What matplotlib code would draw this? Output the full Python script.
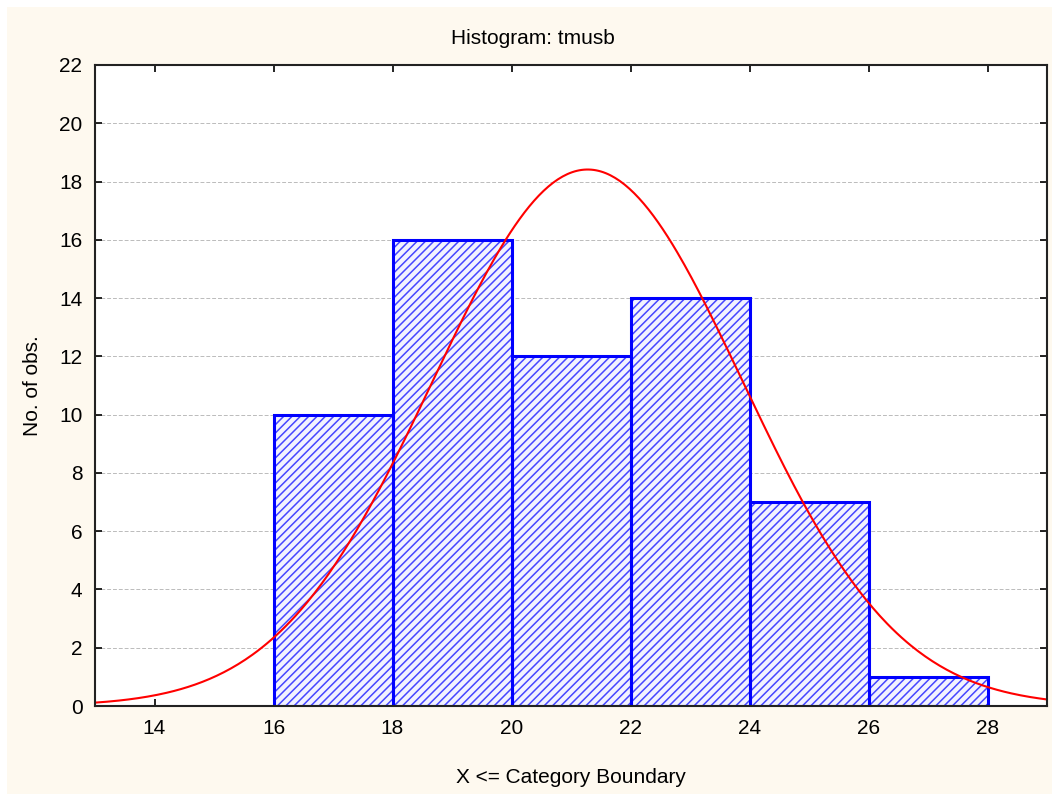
import numpy as np
import matplotlib
matplotlib.use("Agg")
import matplotlib.pyplot as plt
from matplotlib.patches import Rectangle

# Data
bin_edges = [16, 18, 20, 22, 24, 26, 28]
counts = [10, 16, 12, 14, 7, 1]
fit_mean = 21.28
fit_sd = 2.60
x_ticks = [14, 16, 18, 20, 22, 24, 26, 28]
y_ticks = [0, 2, 4, 6, 8, 10, 12, 14, 16, 18, 20, 22]
title = "Histogram: tmusb"
xlabel = "X <= Category Boundary"
ylabel = "No. of obs."

plt.rcParams['font.family'] = ['Liberation Sans', 'DejaVu Sans']
plt.rcParams['hatch.linewidth'] = 1.1

fig = plt.figure(figsize=(10.55, 7.94), dpi=100, facecolor='white')
fig.patches.append(Rectangle((7/1055, 0), (1052-7)/1055, (794-7)/794,
                             transform=fig.transFigure, facecolor='#FEF9EF',
                             edgecolor='none', zorder=-10))
ax = fig.add_axes([95/1055, (794-706)/794, (1047-95)/1055, (706-65)/794])
ax.set_facecolor('white')

widths = np.diff(bin_edges)
# hatched fill layer
ax.bar(bin_edges[:-1], counts, width=widths, align='edge', facecolor='#F2F2FF',
       edgecolor='#4646FF', linewidth=0, hatch='////', zorder=2)
# outline layer
ax.bar(bin_edges[:-1], counts, width=widths, align='edge', facecolor='none',
       edgecolor='#0000FF', linewidth=2.2, zorder=2.5)

n = sum(counts)
bw = widths[0]
xs = np.linspace(13, 29, 400)
ys = n * bw / (fit_sd * np.sqrt(2 * np.pi)) * np.exp(-0.5 * ((xs - fit_mean) / fit_sd) ** 2)
ax.plot(xs, ys, color='#FF0000', linewidth=1.5, zorder=3)

ax.set_xlim(13, 29)
ax.set_ylim(0, 22)
ax.set_xticks(x_ticks)
ax.set_yticks(y_ticks)
ax.tick_params(direction='in', length=5, width=1.2, labelsize=15, pad=9,
               top=True, right=True, colors='black')
ax.yaxis.grid(True, linestyle=(0, (4, 2)), color='#BBBBBB', linewidth=0.7, zorder=0)
ax.set_axisbelow(True)
for s in ax.spines.values():
    s.set_linewidth(1.5)
    s.set_color('#222222')
    s.set_zorder(4)

fig.text(533/1055, 1 - 38/794, title, fontsize=15, ha='center', va='center')
ax.set_xlabel(xlabel, fontsize=15, labelpad=22)
ax.set_ylabel(ylabel, fontsize=15, labelpad=12)

fig.savefig("out.png", dpi=100, facecolor=fig.get_facecolor())
